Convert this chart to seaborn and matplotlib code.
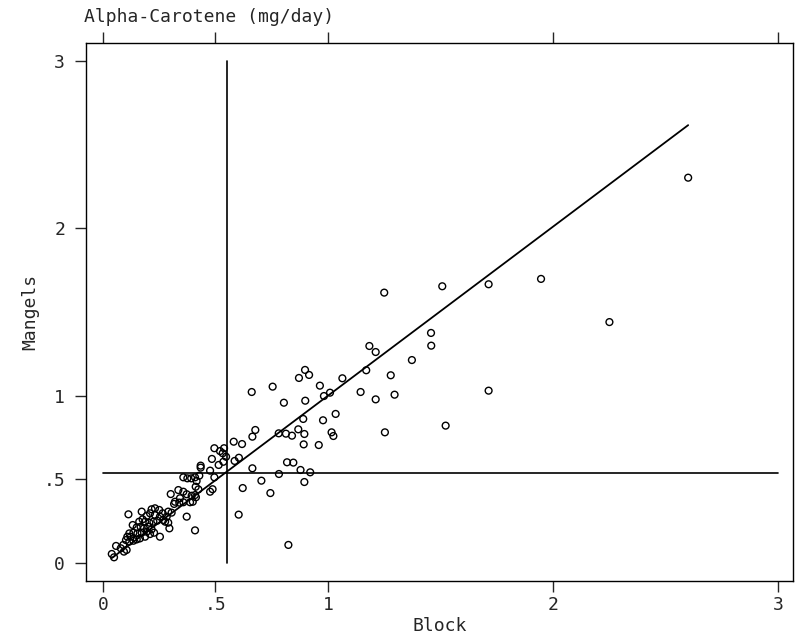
import numpy as np
import pandas as pd
import matplotlib
matplotlib.use("Agg")
import matplotlib.pyplot as plt
import seaborn as sns

# block (x) values
block = [
    # right of the vertical mean line
    0.603, 0.824, 0.621, 0.744, 0.704, 0.782, 0.895, 0.921, 0.878, 0.664,
    0.818, 0.846, 0.604, 0.585, 0.581, 0.618, 0.677, 0.664, 0.781, 0.813,
    0.840, 0.868, 0.895, 0.890, 0.804, 0.899, 0.871, 0.898, 0.916, 0.754,
    0.661, 0.959, 0.892, 0.964, 0.982, 1.009, 0.978, 1.034, 1.016, 1.024,
    1.064, 1.145, 1.170, 1.212, 1.184, 1.212, 1.296, 1.279, 1.373, 1.458,
    1.459, 1.250, 1.508, 1.714, 1.714, 1.523, 1.253, 1.947, 2.251, 2.601,
    # upper part of the cluster
    0.495, 0.520, 0.538, 0.532, 0.484, 0.514, 0.547, 0.434, 0.434, 0.476,
    0.495, 0.357, 0.375, 0.392, 0.409, 0.428, 0.416, 0.412, 0.487, 0.476,
    0.301, 0.335, 0.357, 0.372, 0.394, 0.409, 0.320, 0.357, 0.387, 0.535,
    0.409, 0.399, 0.413, 0.424, 0.342, 0.339, 0.316, 0.372, 0.295, 0.253,
    # lower part of the cluster
    0.039, 0.049, 0.058, 0.079, 0.093, 0.090, 0.105, 0.113, 0.102, 0.108,
    0.117, 0.123, 0.117, 0.135, 0.135, 0.150, 0.153, 0.132, 0.150, 0.167,
    0.172, 0.164, 0.182, 0.187, 0.194, 0.201, 0.209, 0.216, 0.227, 0.172,
    0.161, 0.176, 0.187, 0.194, 0.206, 0.209, 0.216, 0.224, 0.231, 0.231,
    0.241, 0.250, 0.253, 0.268, 0.265, 0.276, 0.283, 0.290, 0.290, 0.305,
]

# mangels (y) values
mangels = [
    0.289, 0.108, 0.448, 0.418, 0.492, 0.532, 0.484, 0.542, 0.556, 0.566,
    0.602, 0.600, 0.629, 0.610, 0.725, 0.711, 0.795, 0.755, 0.775, 0.773,
    0.761, 0.799, 0.771, 0.861, 0.958, 0.970, 1.106, 1.154, 1.124, 1.054,
    1.022, 0.705, 0.709, 1.060, 0.998, 1.018, 0.853, 0.891, 0.781, 0.759,
    1.104, 1.022, 1.152, 1.261, 1.297, 0.978, 1.006, 1.122, 1.213, 1.375,
    1.299, 1.616, 1.654, 1.666, 1.030, 0.821, 0.781, 1.698, 1.440, 2.303,
    0.686, 0.669, 0.686, 0.656, 0.622, 0.586, 0.635, 0.582, 0.570, 0.552,
    0.512, 0.512, 0.506, 0.506, 0.512, 0.522, 0.490, 0.456, 0.441, 0.426,
    0.412, 0.436, 0.426, 0.411, 0.402, 0.406, 0.366, 0.363, 0.363, 0.605,
    0.195, 0.366, 0.393, 0.440, 0.387, 0.361, 0.353, 0.277, 0.207, 0.157,
    0.054, 0.034, 0.102, 0.088, 0.068, 0.108, 0.078, 0.291, 0.137, 0.157,
    0.128, 0.157, 0.177, 0.181, 0.133, 0.141, 0.177, 0.227, 0.213, 0.217,
    0.181, 0.147, 0.207, 0.157, 0.187, 0.217, 0.173, 0.201, 0.181, 0.307,
    0.247, 0.261, 0.247, 0.281, 0.241, 0.297, 0.321, 0.247, 0.287, 0.327,
    0.253, 0.317, 0.277, 0.257, 0.297, 0.247, 0.277, 0.307, 0.241, 0.301,
]

# reference lines (means) and fitted line
block_mean = 0.551
mangels_mean = 0.538
fit_slope = 1.010
fit_intercept = -0.010

tick_vals = [0, 0.5, 1, 2, 3]
tick_labels = ["0", ".5", "1", "2", "3"]

df = pd.DataFrame({"Block": block, "Mangels": mangels})
fit_x = np.array([df["Block"].min(), df["Block"].max()])
fit_df = pd.DataFrame({"Block": fit_x, "Mangels": fit_intercept + fit_slope * fit_x})

sns.set_style("white")
plt.rcParams["font.family"] = ["DejaVu Sans Mono", "DejaVu Sans"]

fig = plt.figure(figsize=(7.95, 6.39), dpi=100)
ax = fig.add_axes([86 / 795, 1 - 581 / 639, (793 - 86) / 795, (581 - 43) / 639])

ax.plot([block_mean, block_mean], [0, 3], color="black", lw=1.2)
ax.plot([0, 3], [mangels_mean, mangels_mean], color="black", lw=1.2)

sns.lineplot(data=fit_df, x="Block", y="Mangels", color="black", lw=1.3, ax=ax)
sns.scatterplot(data=df, x="Block", y="Mangels", marker="o", s=24,
                facecolor="none", edgecolor="black", linewidth=1.0, ax=ax)

ax.set_xlim(-0.0756, 3.067)
ax.set_ylim(-0.1076, 3.108)
ax.set_xticks(tick_vals)
ax.set_xticklabels(tick_labels)
ax.set_yticks(tick_vals)
ax.set_yticklabels(tick_labels)
ax.tick_params(axis="x", direction="out", length=8, width=1, pad=3,
               labelsize=13, top=True, labeltop=False, bottom=True)
ax.tick_params(axis="y", direction="out", length=8, width=1, pad=7,
               labelsize=13, left=True, right=False)

for s in ax.spines.values():
    s.set_visible(True)
    s.set_color("black")
    s.set_linewidth(1.0)

ax.set_xlabel("Block", fontsize=13, labelpad=2)
ax.set_ylabel("Mangels", fontsize=13, labelpad=3)
fig.text(84 / 795, 1 - 17 / 639, "Alpha-Carotene (mg/day)", fontsize=13,
         ha="left", va="center")

fig.savefig("out.png", dpi=100)
